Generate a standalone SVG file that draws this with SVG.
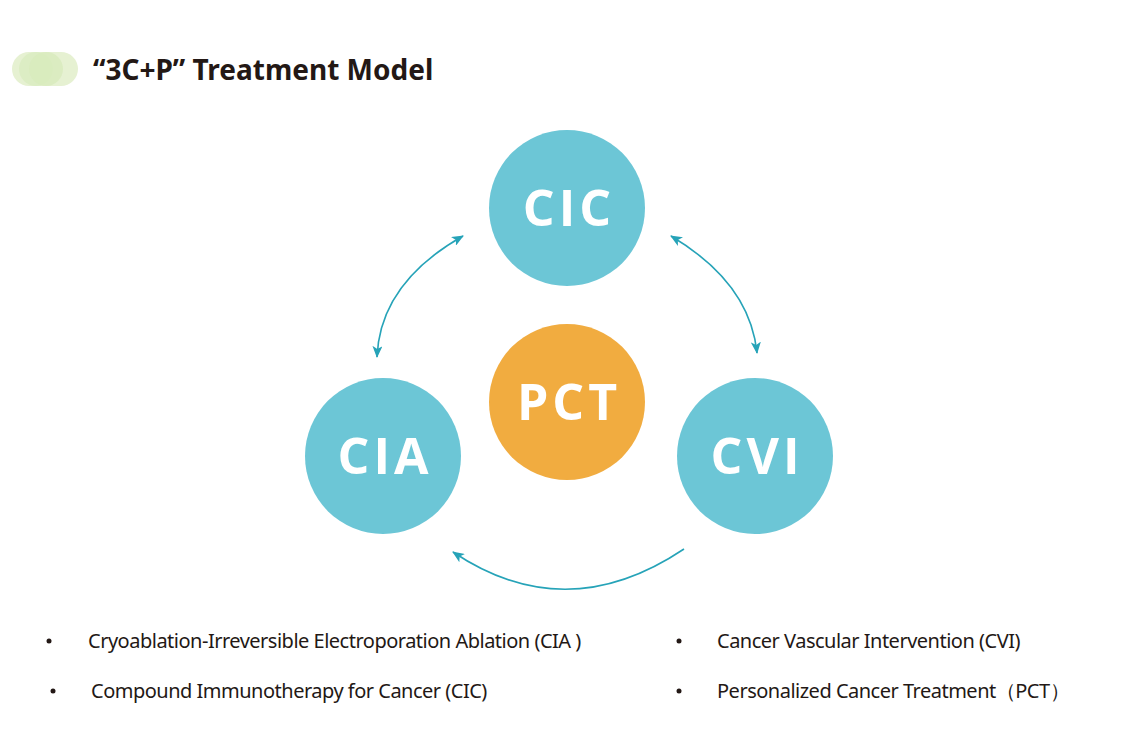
<svg xmlns="http://www.w3.org/2000/svg" width="1123" height="736" viewBox="0 0 1123 736">
<style>
.c{fill:#6cc6d6}.p{fill:#f1ac40}
.ct{font-family:"Open Sans","Noto Sans",sans-serif;font-weight:700;font-size:50px;fill:#fff;text-anchor:middle;letter-spacing:4px}
.b{font-family:"Noto Sans","Open Sans",sans-serif;font-size:20px;fill:#231815;letter-spacing:-0.5px}
.a{fill:none;stroke:#26a3b8;stroke-width:1.6}
</style>
<defs>
<marker id="h" viewBox="0 0 12 10" refX="11" refY="5" markerWidth="12" markerHeight="10" markerUnits="userSpaceOnUse" orient="auto-start-reverse"><path d="M0,0 L12,5 L0,10 L3,5 Z" fill="#26a3b8"/></marker>
</defs>
<rect width="1123" height="736" fill="#fff"/>
<g id="title">
<rect x="12" y="52" width="66" height="34" rx="17" fill="#e6f1d2"/>
<circle cx="36" cy="69" r="17" fill="#dcedc4"/>
<circle cx="46" cy="69" r="17" fill="#d8ebbd" opacity="0.8"/>
<text x="93" y="80" font-family="'Noto Sans','Open Sans',sans-serif" font-weight="700" font-size="28" fill="#231815">“3C+P” Treatment Model</text>
</g>
<g id="connectors">
<path class="a" d="M463,236 Q380,283 377,357" marker-start="url(#h)" marker-end="url(#h)"/>
<path class="a" d="M671,236 Q750,283 757,353" marker-start="url(#h)" marker-end="url(#h)"/>
<path class="a" d="M684,549 Q566,628 453,552" marker-end="url(#h)"/>
</g>
<g id="CIC"><circle class="c" cx="567" cy="208" r="78"/><text class="ct" x="569" y="226">CIC</text></g>
<g id="PCT"><circle class="p" cx="567" cy="402" r="78"/><text class="ct" x="569" y="420">PCT</text></g>
<g id="CIA"><circle class="c" cx="383" cy="456" r="78"/><text class="ct" x="385" y="474">CIA</text></g>
<g id="CVI"><circle class="c" cx="755" cy="456" r="78"/><text class="ct" x="757" y="474">CVI</text></g>
<g id="legend">
<circle cx="49" cy="641" r="2.5" fill="#231815"/>
<text class="b" x="88" y="648">Cryoablation-Irreversible Electroporation Ablation (CIA )</text>
<circle cx="53" cy="691" r="2.5" fill="#231815"/>
<text class="b" x="91" y="698">Compound Immunotherapy for Cancer (CIC)</text>
<circle cx="679" cy="641" r="2.5" fill="#231815"/>
<text class="b" x="717" y="648">Cancer Vascular Intervention (CVI)</text>
<circle cx="679" cy="691" r="2.5" fill="#231815"/>
<text class="b" x="717" y="698">Personalized Cancer Treatment（PCT）</text>
</g>
</svg>
